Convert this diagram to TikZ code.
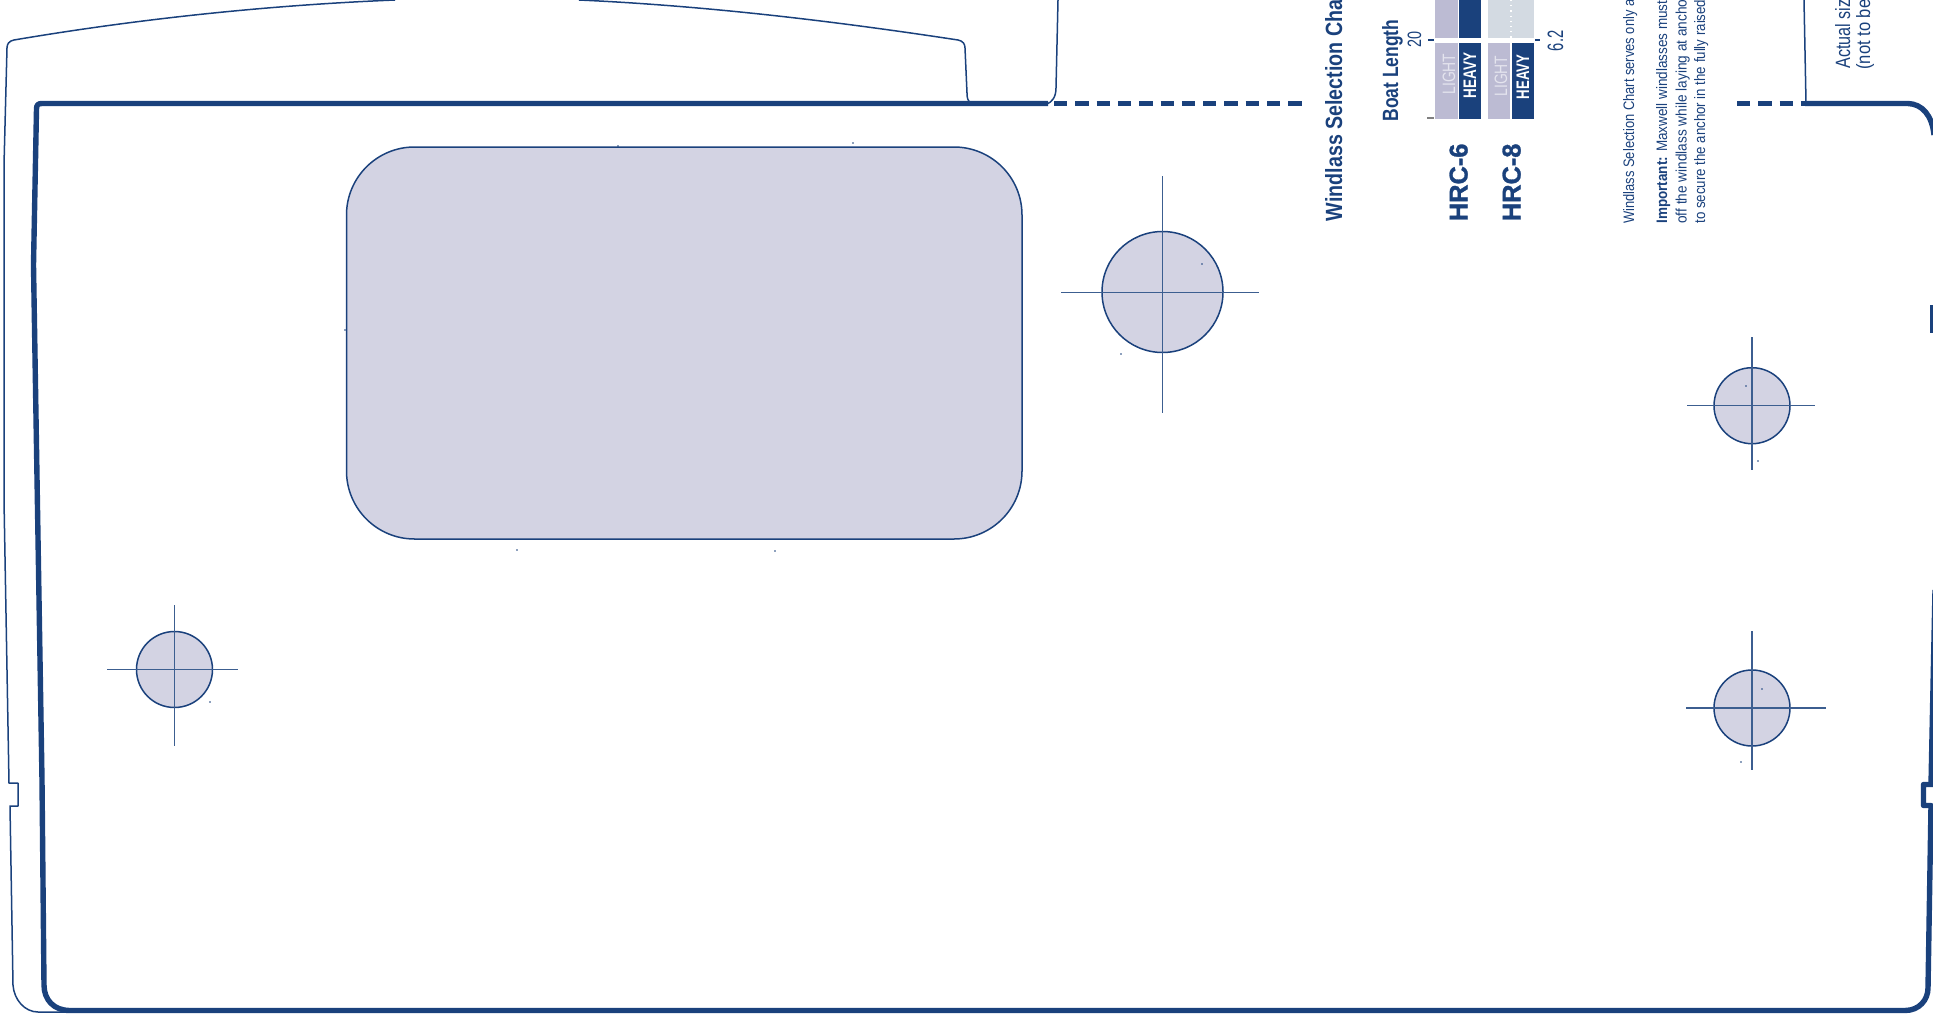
\documentclass[tikz,border=0pt]{standalone}
\usepackage{fontspec}
\usepackage{graphicx}
\setmainfont{Liberation Sans}
\newfontfamily\heavyfont[FakeBold=1.2]{Liberation Sans Bold}
\usetikzlibrary{calc}
\definecolor{navy}{HTML}{1A417C}
\definecolor{lilac}{HTML}{D3D3E3}
\definecolor{lightbar}{HTML}{BCBBD3}
\definecolor{palebar}{HTML}{D3DAE2}
\definecolor{lighttext}{HTML}{E4E4EE}
\newlength{\pxu}\setlength{\pxu}{0.5pt}
% rotated text: baseline x, start y, length, height, name, colour, text
\newcommand{\vtext}[7]{\node[rotate=90,anchor=base west,inner sep=0pt,text=#6] (#5) at (#1,#2) {\resizebox{#3\pxu}{#4\pxu}{#7}};}
\tikzset{
  heavyline/.style={draw=navy,line width=2.7pt,line join=round},
  thinline/.style={draw=navy,line width=0.75pt,line join=round},
  hairline/.style={draw=navy!85,line width=0.7pt},
  holefill/.style={fill=lilac,draw=navy,line width=0.75pt},
  dashline/.style={draw=navy,line width=2.7pt,dash pattern=on 6.65pt off 4pt},
}
\begin{document}
\begin{tikzpicture}[x=0.5pt,y=-0.5pt]
\useasboundingbox (0,0) rectangle (1933,1017);
% outer thin outline
\coordinate (tla) at (395,0);
\coordinate (tlb) at (579,0);
\draw[thinline] (tla) .. controls (250,6) and (120,22) .. (14,40)
  .. controls (9,41) and (7,44) .. (7,48) -- (4,165) -- (4,500) -- (9,783)
  -- (18,783) -- (18,806) -- (10,806) -- (13,985)
  .. controls (14,1000) and (25,1012) .. (38,1012) -- (96,1012);
\draw[thinline] (tlb) .. controls (710,6) and (840,22) .. (958,40)
  .. controls (963,41) and (965,44) .. (965,48) -- (967,93)
  .. controls (967,98) and (968,101) .. (970,103);
\coordinate (tma) at (1058,0);
\draw[thinline] (tma) -- (1056,88) .. controls (1056,97) and (1052,102) .. (1047,104);
\coordinate (tra) at (1804,0);
\draw[thinline] (tra) -- (1806,103);
% main heavy outline
\draw[heavyline] (1048,103.5) -- (42,103.5)
  .. controls (38,103.5) and (36.5,105) .. (36.5,109)
  -- (33.5,265) -- (42,780) -- (44,985)
  .. controls (44,1000) and (54,1010.5) .. (70,1010.5) -- (1905,1010.5)
  .. controls (1919,1010.5) and (1928,1000) .. (1928,988) -- (1931,805.5)
  -- (1923.5,805.5) -- (1923.5,784.5) -- (1934,784.5);
\draw[heavyline] (1931,784.5) -- (1935,590);
\draw[heavyline] (1805,103.5) -- (1908,103.5)
  .. controls (1922,104) and (1932,115) .. (1934,135);
\draw[dashline] (1054,103.5) -- (1303,103.5);
\draw[dashline] (1737,103.5) -- (1805,103.5);
\fill[navy] (1930,305) rectangle (1933,333);
% rounded cut-out
\draw[holefill,rounded corners=34pt] (346.5,147) rectangle (1022,539);
% holes with cross hairs
\draw[holefill] (1162.5,292) circle[radius=30.25pt];
\draw[hairline] (1061,292.5) -- (1259,292.5);
\draw[hairline] (1162.5,176) -- (1162.5,413);
\draw[holefill] (174.5,669.5) circle[radius=19pt];
\draw[hairline] (107,669.5) -- (238,669.5);
\draw[hairline] (174.5,605) -- (174.5,746);
\draw[holefill] (1752,405.7) circle[radius=19pt];
\draw[hairline] (1687,405.7) -- (1815,405.7);
\draw[hairline] (1752,337) -- (1752,470);
\draw[holefill] (1752,708) circle[radius=19pt];
\draw[hairline] (1686,708) -- (1826,708);
\draw[hairline] (1752,631) -- (1752,770);
% specks
\foreach \p in {(618,146),(853,143),(345,330),(517,550),(775,551),(1202,264),(1121,354),(1746,386),(1758,461),(1762,689),(1741,762),(210,702)}
  \fill[navy] \p circle[radius=0.4pt];
% chart bars
\fill[lightbar] (1435,0) rectangle (1457.5,38);
\fill[navy] (1458.5,0) rectangle (1481,38);
\draw[white,line width=0.5pt,dotted] (1458,0) -- (1458,38);
\fill[palebar] (1488,0) rectangle (1534,38);
\draw[white,line width=0.6pt,dotted] (1511,0) -- (1511,38);
\fill[lightbar] (1435,43) rectangle (1457.5,119);
\fill[navy] (1459,43) rectangle (1481,119);
\fill[lightbar] (1488,43) rectangle (1510,119);
\fill[navy] (1512,43) rectangle (1534,119);
% ticks
\draw[navy,line width=0.6pt] (1428,40) -- (1434,40);
\draw[navy,line width=0.6pt] (1535,40) -- (1540,40);
\draw[gray,line width=0.8pt] (1427,118) -- (1434,118);
% texts
\vtext{1342}{221.5}{221.5}{17}{title}{navy}{\bfseries Windlass Selection Cha}
\vtext{1398}{122}{102}{16}{boat}{navy}{\bfseries Boat Length}
\vtext{1421}{48}{16}{13.5}{twenty}{navy}{20}
\vtext{1563}{51.5}{20.5}{15.5}{sixtwo}{navy}{6.2}
\vtext{1467.5}{221.5}{77.5}{18}{hrcsix}{navy}{\heavyfont HRC-6}
\vtext{1520.5}{221.5}{77.5}{18}{hrceight}{navy}{\heavyfont HRC-8}
\vtext{1455}{95}{41}{12.5}{lightsix}{lighttext}{LIGHT}
\vtext{1476}{98.5}{45.5}{12.5}{heavysix}{white}{\bfseries HEAVY}
\vtext{1507}{97}{41}{12.5}{lighteight}{lighttext}{LIGHT}
\vtext{1529}{99.5}{44.5}{12.5}{heavyeight}{white}{\bfseries HEAVY}
\vtext{1634}{224}{224}{11}{noteone}{navy}{Windlass Selection Chart serves only a}
\vtext{1667}{224}{223}{11}{notetwo}{navy}{\textbf{Important:} Maxwell windlasses must}
\vtext{1686.5}{224}{224}{11}{notethree}{navy}{off the windlass while laying at ancho}
\vtext{1705}{224}{224}{11}{notefour}{navy}{to secure the anchor in the fully raised}
\vtext{1850}{69}{69}{15}{sizeone}{navy}{Actual siz}
\vtext{1870}{70}{70}{14}{sizetwo}{navy}{(not to be}
\end{tikzpicture}
\end{document}
